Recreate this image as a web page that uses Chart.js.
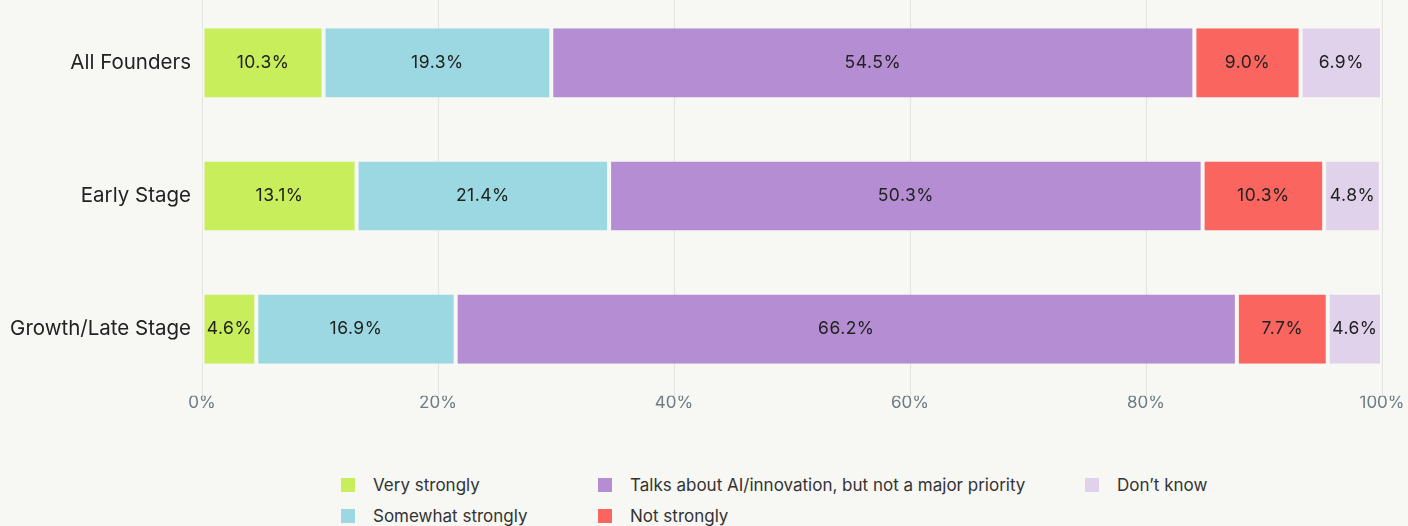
<!DOCTYPE html>
<html>
<head>
<meta charset="utf-8">
<script src="https://cdn.jsdelivr.net/npm/chart.js@4"></script>
<style>
  html, body { margin: 0; padding: 0; background: #f7f7f4; overflow: hidden; }
  #wrap { position: relative; width: 1408px; height: 430px; margin-top: -19px; }
  #legend {
    position: absolute; left: 341px; top: 469px;
    display: grid; grid-template-columns: 257px 487px 200px; grid-template-rows: 31px 31px;
    grid-auto-flow: column;
    font-family: Inter, "Noto Sans", sans-serif; font-size: 17px; color: #333;
  }
  .item { display: flex; align-items: center; }
  .box { width: 14px; height: 14px; margin-right: 18px; }
</style>
</head>
<body>
<div id="wrap"><canvas id="bar_chart"></canvas></div>
<div id="legend"></div>
<script>
const categories = ["All Founders", "Early Stage", "Growth/Late Stage"];
const seriesNames = [
  "Very strongly",
  "Somewhat strongly",
  "Talks about AI/innovation, but not a major priority",
  "Not strongly",
  "Don\u2019t know",
];
const veryStrongly = [10.3, 13.1, 4.6];
const somewhatStrongly = [19.3, 21.4, 16.9];
const talksAbout = [54.5, 50.3, 66.2];
const notStrongly = [9.0, 10.3, 7.7];
const dontKnow = [6.9, 4.8, 4.6];
const xTicks = [0, 20, 40, 60, 80, 100];

const colors = ["#c8ee5c", "#9bd8e1", "#b58dd3", "#fa665f", "#e1d2ec"];
const seriesValues = [veryStrongly, somewhatStrongly, talksAbout, notStrongly, dontKnow];

const font = "Inter, 'Noto Sans', sans-serif";

// draw the value in the middle of each segment
const segmentLabels = {
  id: "segmentLabels",
  afterDatasetsDraw(chart) {
    const ctx = chart.ctx;
    ctx.save();
    ctx.font = "17.5px " + font;
    ctx.letterSpacing = "0.5px";
    ctx.fillStyle = "#222";
    ctx.textAlign = "center";
    ctx.textBaseline = "middle";
    chart.data.datasets.forEach((ds, i) => {
      chart.getDatasetMeta(i).data.forEach((bar, j) => {
        const mid = (bar.x + bar.base) / 2;
        ctx.fillText(ds.data[j].toFixed(1) + "%", mid, bar.y);
      });
    });
    ctx.restore();
  },
};

const canvas = document.getElementById("bar_chart");
const barChart = new Chart(canvas.getContext("2d"), {
  type: "bar",
  data: {
    labels: categories,
    datasets: seriesNames.map((name, i) => ({
      label: name,
      data: seriesValues[i],
      backgroundColor: colors[i],
      borderColor: "#f7f7f4",
      borderWidth: { left: 2, right: 2, top: 0, bottom: 0 },
      borderSkipped: false,
      barPercentage: 0.52,
      categoryPercentage: 1,
    })),
  },
  options: {
    indexAxis: "y",
    responsive: true,
    maintainAspectRatio: false,
    animation: false,
    layout: { padding: { left: 0, right: 26, top: 0, bottom: 0 } },
    plugins: {
      legend: { display: false },
      tooltip: { enabled: false },
    },
    scales: {
      x: {
        stacked: true,
        min: 0,
        max: 100,
        afterBuildTicks: (scale) => {
          scale.ticks = xTicks.map((v) => ({ value: v }));
        },
        ticks: {
          callback: (v) => v + "%",
          color: "#6d7c83",
          font: { family: font, size: 17 },
          padding: -3,
        },
        grid: { color: "#e3e3df", lineWidth: 1, tickLength: 0, drawTicks: false },
        border: { display: false },
      },
      y: {
        stacked: true,
        afterFit: (scale) => {
          scale.width = 202; // fixed label column so the plot starts where the original does
        },
        ticks: {
          color: "#222",
          font: { family: font, size: 20.5 },
          padding: 3,
        },
        grid: { display: false },
        border: { display: false },
      },
    },
  },
  plugins: [segmentLabels],
});

// legend laid out in columns like the original
const legend = document.getElementById("legend");
seriesNames.forEach((name, i) => {
  const item = document.createElement("div");
  item.className = "item";
  item.innerHTML = `<span class="box" style="background:${colors[i]}"></span><span>${name}</span>`;
  legend.appendChild(item);
});
</script>
</body>
</html>
